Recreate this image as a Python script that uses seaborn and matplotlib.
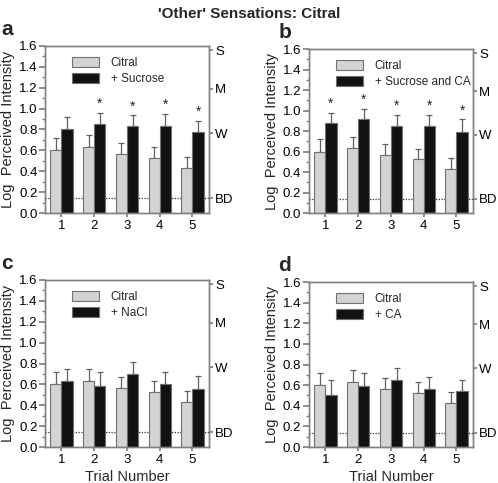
import numpy as np
import pandas as pd
import matplotlib
matplotlib.use('Agg')
import matplotlib.pyplot as plt
import matplotlib.ticker as ticker
import seaborn as sns

# ── Data ─────────────────────────────────────────────────────────────
trials = ["1", "2", "3", "4", "5"]

citral_mean = [0.60, 0.63, 0.565, 0.525, 0.43]
citral_err = [0.12, 0.115, 0.105, 0.103, 0.105]

sucrose_mean = [0.80, 0.85, 0.83, 0.835, 0.78]
sucrose_err = [0.118, 0.105, 0.105, 0.112, 0.102]

sucrose_ca_mean = [0.875, 0.915, 0.85, 0.85, 0.795]
sucrose_ca_err = [0.104, 0.10, 0.11, 0.11, 0.118]

nacl_mean = [0.628, 0.586, 0.698, 0.602, 0.558]
nacl_err = [0.121, 0.131, 0.121, 0.121, 0.118]

ca_mean = [0.50, 0.588, 0.653, 0.562, 0.54]
ca_err = [0.149, 0.13, 0.113, 0.117, 0.113]

sucrose_sig = [False, True, True, True, True]
sucrose_ca_sig = [True, True, True, True, True]

glms_labels = ["BD", "W", "M", "S"]
glms_values = [0.14, 0.765, 1.19, 1.56]

# ── Theme ────────────────────────────────────────────────────────────
sns.set_theme(style="ticks", rc={
    "axes.edgecolor": "#808080",
    "axes.linewidth": 1.0,
    "xtick.color": "#808080",
    "ytick.color": "#808080",
    "xtick.labelcolor": "black",
    "ytick.labelcolor": "black",
    "xtick.direction": "out",
    "ytick.direction": "out",
})
plt.rcParams['font.family'] = ['Liberation Sans', 'DejaVu Sans']

CIT_COLOR = "#d3d3d3"
TEST_COLOR = "#111111"

fig = plt.figure(figsize=(4.98, 4.83), dpi=100)

panels = [
    ("a", "+ Sucrose", sucrose_mean, sucrose_err, sucrose_sig,
     [0.0904, 0.559, 0.329, 0.3458], False),
    ("b", "+ Sucrose and CA", sucrose_ca_mean, sucrose_ca_err, sucrose_ca_sig,
     [0.6205, 0.559, 0.329, 0.3395], False),
    ("c", "+ NaCl", nacl_mean, nacl_err, None,
     [0.0904, 0.0745, 0.329, 0.3458], True),
    ("d", "+ CA", ca_mean, ca_err, None,
     [0.6205, 0.0745, 0.329, 0.3416], True),
]

for letter, label, mean, err, sig, pos, bottom in panels:
    ax = fig.add_axes(pos)
    df = pd.DataFrame({
        "trial": trials * 2,
        "value": citral_mean + mean,
        "stim": ["Citral"] * len(trials) + [label] * len(trials),
    })

    ax.axhline(0.14, ls=(0, (1, 1.2)), color="#333333", lw=0.9, zorder=0)
    sns.barplot(data=df, x="trial", y="value", hue="stim",
                palette=[CIT_COLOR, TEST_COLOR], saturation=1,
                errorbar=None, width=0.68, edgecolor="#707070",
                linewidth=0.8, legend=False, ax=ax, zorder=2)

    # one-sided SEM bars on top of each bar
    for cont, e in zip(ax.containers, [citral_err, err]):
        xs = [p.get_x() + p.get_width() / 2 for p in cont.patches]
        ys = [p.get_height() for p in cont.patches]
        ax.errorbar(xs, ys, yerr=[np.zeros(len(e)), e], fmt='none',
                    ecolor="#606060", elinewidth=0.9, capsize=2.5,
                    capthick=0.9, zorder=1)

    if sig is not None:
        cont = ax.containers[1]
        for p, e, s in zip(cont.patches, err, sig):
            if s:
                ax.text(p.get_x() + p.get_width() / 2,
                        p.get_height() + e + 0.02, "*",
                        ha="center", va="bottom", fontsize=10)

    ax.set_ylim(0, 1.6)
    ax.set_xlim(-0.5, 4.5)
    ax.yaxis.set_major_locator(ticker.MultipleLocator(0.2))
    ax.yaxis.set_minor_locator(ticker.MultipleLocator(0.1))
    ax.yaxis.set_major_formatter(ticker.FormatStrFormatter('%.1f'))
    ax.tick_params(axis='y', which='major', length=4, labelsize=9.5, pad=1.5)
    ax.tick_params(axis='y', which='minor', length=2.5)
    ax.tick_params(axis='x', length=3, labelsize=9.5, pad=2)
    ax.set_ylabel("Log  Perceived Intensity", fontsize=10.5, labelpad=3)
    if bottom:
        ax.set_xlabel("Trial Number", fontsize=10.5, labelpad=3)
    else:
        ax.set_xlabel("")

    ax.legend(ax.containers, ["Citral", label], loc="upper left",
              bbox_to_anchor=(0.12, 0.975), frameon=False, fontsize=8.5,
              handlelength=2.3, handleheight=0.9, handletextpad=1.0,
              labelspacing=0.35, borderaxespad=0.2)

    # gLMS verbal labels on right
    ax2 = ax.twinx()
    ax2.set_ylim(0, 1.6)
    ax2.set_yticks(glms_values)
    ax2.set_yticklabels(glms_labels)
    ax2.tick_params(axis='y', length=3, labelsize=9.5, pad=1.5)

    bb = ax.get_position()
    fig.text(bb.x0 - 0.088 if letter in "ac" else bb.x0 - 0.062,
             bb.y1 + 0.035, letter, fontsize=15, fontweight='bold',
             ha="left", va="center")

fig.suptitle("'Other' Sensations: Citral", fontsize=11, fontweight='bold',
             x=0.5, y=0.985)

fig.savefig("out.png", dpi=100)
